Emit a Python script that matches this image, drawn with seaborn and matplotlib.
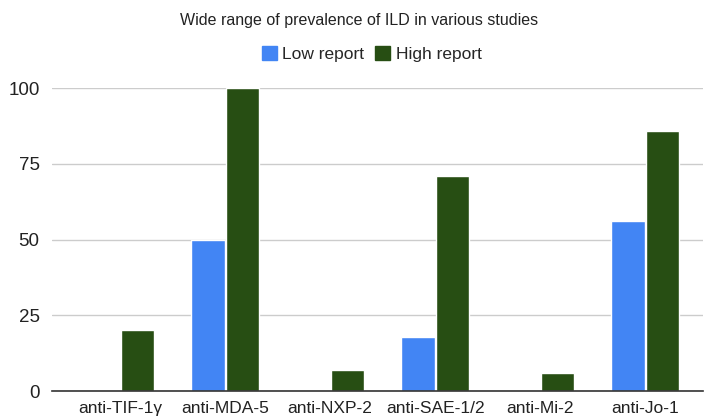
import numpy as np
import pandas as pd
import matplotlib
matplotlib.use('Agg')
import matplotlib.pyplot as plt
import seaborn as sns

antibodies = ['anti-TIF-1γ', 'anti-MDA-5', 'anti-NXP-2', 'anti-SAE-1/2', 'anti-Mi-2', 'anti-Jo-1']
low_report = [np.nan, 50, np.nan, 18, np.nan, 56]
high_report = [20, 100, 7, 71, 6, 86]
series_names = ['Low report', 'High report']
colors = ['#4285F4', '#274E13']

df = pd.DataFrame({
    'antibody': antibodies * 2,
    'report': [series_names[0]] * len(antibodies) + [series_names[1]] * len(antibodies),
    'value': low_report + high_report,
})

sns.set_style('white')
plt.rcParams['font.family'] = ['Liberation Sans', 'DejaVu Sans']

fig = plt.figure(figsize=(7.05, 4.2), dpi=100)
ax = fig.add_axes([0.074, 0.069, 0.923, 0.721])

sns.barplot(data=df, x='antibody', y='value', hue='report', order=antibodies,
            hue_order=series_names, palette=colors, width=0.66, gap=0.03,
            saturation=1, ax=ax, legend=False)

ax.set_ylim(0, 100)
ax.set_xlim(-0.648, 5.55)
ax.set_yticks([0, 25, 50, 75, 100])
ax.yaxis.grid(True, color='#cccccc', linewidth=1)
ax.set_axisbelow(True)
for s in ['top', 'right', 'left']:
    ax.spines[s].set_visible(False)
ax.spines['bottom'].set_color('#333333')
ax.spines['bottom'].set_linewidth(1.2)
ax.tick_params(axis='both', length=0, colors='#222222')
ax.tick_params(axis='x', labelsize=12.5, pad=7)
ax.tick_params(axis='y', labelsize=13.5, pad=9)
ax.set_xlabel('')
ax.set_ylabel('')

fig.text(0.51, 0.952, 'Wide range of prevalence of ILD in various studies',
         ha='center', va='center', fontsize=11.5, color='#222222')

handles = [plt.Rectangle((0, 0), 1, 1, color=c) for c in colors]
fig.legend(handles, series_names, loc='center', bbox_to_anchor=(0.527, 0.872),
           ncol=2, frameon=False, fontsize=12.5, handlelength=0.9, handleheight=0.9,
           handletextpad=0.3, columnspacing=0.6)

fig.savefig('out.png', dpi=100)
